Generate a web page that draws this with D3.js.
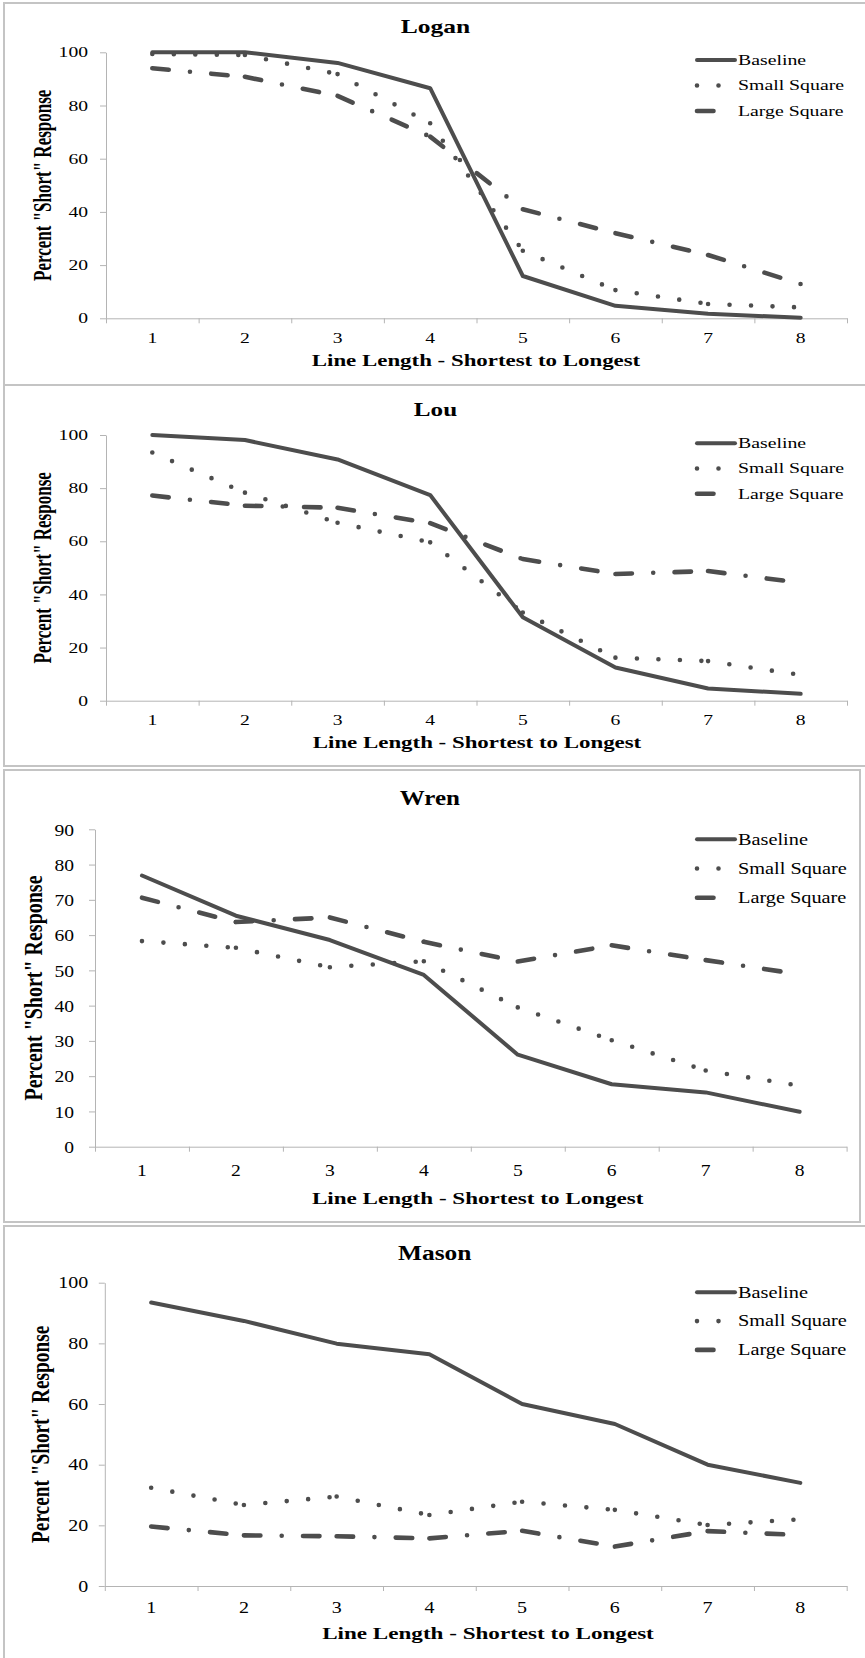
<!DOCTYPE html>
<html>
<meta charset="utf-8">
<title>Percent "Short" Response by Line Length</title>
<style>
  body {
    margin: 0;
    background: #fff;
  }

  svg text {
    font-family: "Liberation Serif", "Times New Roman", serif;
    fill: #000;
  }

  .axis path,
  .axis line {
    stroke: #b4b4b4;
    stroke-width: 1;
  }

  .frame {
    fill: none;
    stroke: #c4c4c4;
    stroke-width: 2;
  }

  .series {
    fill: none;
    stroke: #4d4d4d;
    stroke-width: 4;
    stroke-linecap: round;
    stroke-linejoin: round;
  }
  .series.broken {
    stroke-width: 4.6;
  }
</style>
<body>
<div id="chart"></div>
<script src="https://d3js.org/d3.v7.min.js"></script>
<script>

// line length categories (shortest to longest)
const categories = [1, 2, 3, 4, 5, 6, 7, 8];
const seriesNames = ['Baseline', 'Small Square', 'Large Square'];

const loganBaseline = [100, 100, 96, 86.5, 15.9, 4.7, 1.7, 0.2];
const loganSmall = [99.4, 99, 91.8, 73.3, 25.4, 10.6, 5.4, 4.1];
const loganLarge = [94, 90.8, 83.6, 68.3, 41, 32, 23.8, 12.9];

const louBaseline = [100, 98.1, 90.8, 77.4, 31.4, 12.5, 4.6, 2.6];
const louSmall = [93.4, 78.3, 67, 59.6, 33.2, 16.2, 14.9, 9.7];
const louLarge = [77.2, 73.4, 72.6, 66.8, 53.3, 47.7, 48.8, 44.4];

const wrenBaseline = [76.9, 65.5, 58.6, 48.7, 26.1, 17.7, 15.4, 9.9];
const wrenSmall = [58.3, 56.4, 50.9, 52.6, 39.5, 30.2, 21.6, 17.3];
const wrenLarge = [70.6, 63.7, 65, 58.1, 52.5, 57.1, 52.9, 48.9];

const masonBaseline = [93.5, 87.4, 79.9, 76.4, 60, 53.4, 40, 34];
const masonSmall = [32.4, 26.7, 29.5, 23.4, 27.8, 25.1, 20.1, 22];
const masonLarge = [19.6, 16.7, 16.4, 15.7, 18.2, 13, 18.1, 16.8];

const panelTitles = ['Logan', 'Lou', 'Wren', 'Mason'];
const panelMax = [100, 100, 90, 100];
const panelStep = [20, 20, 10, 20];
const panelValues = [
  [loganBaseline, loganSmall, loganLarge],
  [louBaseline, louSmall, louLarge],
  [wrenBaseline, wrenSmall, wrenLarge],
  [masonBaseline, masonSmall, masonLarge]
];

// dash patterns (excel restarts the pattern on every segment)
const dashes = [null, '0,21.5', '16.5,21.3,0,21.3'];

// where each panel sits; [font size, horizontal stretch] for texts
const layouts = [
  {top: 3, bottom: 385, right: 870, x0: 106, x1: 847, yTop: 52.3, yBot: 318.3,
   titleY: 27, tickGap: 20, yLabGap: 18, xTitleY: 361, xTitleX: 476, yTitleX: 43,
   legY: 60, legStep: 25.5,
   title: [18, 1.42], tick: [14, 1.4], xTitle: [16, 1.43], yTitle: [17, 1.5], legend: [15, 1.32]},
  {top: 385, bottom: 766, right: 870, x0: 106, x1: 847, yTop: 435, yBot: 700.7,
   titleY: 410, tickGap: 19.5, yLabGap: 18, xTitleY: 742.7, xTitleX: 477, yTitleX: 43,
   legY: 443.3, legStep: 25.2,
   title: [18, 1.4], tick: [14, 1.4], xTitle: [16, 1.43], yTitle: [17, 1.5], legend: [15, 1.32]},
  {top: 770, bottom: 1222, right: 860, x0: 95, x1: 846.6, yTop: 829.3, yBot: 1146.7,
   titleY: 798, tickGap: 23.3, yLabGap: 21, xTitleY: 1198, xTitleX: 477.7, yTitleX: 34,
   legY: 839.3, legStep: 29.2,
   title: [20, 1.25], tick: [17.5, 1.12], xTitle: [17.5, 1.32], yTitle: [20, 1.25], legend: [16, 1.27]},
  {top: 1226, bottom: 1670, right: 870, x0: 104.8, x1: 846.7, yTop: 1282.7, yBot: 1586,
   titleY: 1253, tickGap: 22, yLabGap: 16.5, xTitleY: 1633, xTitleX: 488, yTitleX: 41,
   legY: 1292.3, legStep: 28.8,
   title: [20, 1.27], tick: [16, 1.25], xTitle: [17.5, 1.32], yTitle: [19.3, 1.3], legend: [16, 1.27]}
];

const svg = d3.select('#chart').append('svg')
  .attr('width', 865)
  .attr('height', 1658);

function stretchText(g, x, y, spec, anchor, bold, str) {
  return g.append('text')
    .attr('transform', `translate(${x},${y}) scale(${spec[1]},1)`)
    .attr('text-anchor', anchor)
    .attr('dy', '0.33em')
    .style('font-size', spec[0] + 'px')
    .style('font-weight', bold ? 'bold' : 'normal')
    .text(str);
}

panelTitles.forEach((title, p) => {
  const L = layouts[p];
  const g = svg.append('g');

  g.append('rect')
    .attr('class', 'frame')
    .attr('x', 4)
    .attr('y', L.top)
    .attr('width', L.right - 4)
    .attr('height', L.bottom - L.top);

  const x = d3.scaleBand().domain(categories).range([L.x0, L.x1]);
  const xEdge = d3.scaleLinear().domain([0, categories.length]).range([L.x0, L.x1]);
  const y = d3.scaleLinear().domain([0, panelMax[p]]).range([L.yBot, L.yTop]);

  // y axis
  const yAxis = g.append('g')
    .attr('class', 'axis')
    .attr('transform', `translate(${L.x0},0)`)
    .call(d3.axisLeft(y)
      .tickValues(d3.range(0, panelMax[p] + 1, panelStep[p]))
      .tickSize(6)
      .tickSizeOuter(0)
      .tickPadding(L.yLabGap - 6));
  yAxis.attr('font-size', null).attr('font-family', null);
  yAxis.selectAll('.tick text')
    .attr('x', -L.yLabGap / L.tick[1])
    .attr('dy', '0.33em')
    .attr('transform', `scale(${L.tick[1]},1)`)
    .style('font-size', L.tick[0] + 'px');

  // x axis: tick marks between categories
  g.append('g')
    .attr('class', 'axis')
    .attr('transform', `translate(0,${L.yBot})`)
    .call(d3.axisBottom(xEdge)
      .tickValues(d3.range(categories.length + 1))
      .tickSize(5)
      .tickSizeOuter(0)
      .tickFormat(''));

  // x axis labels at category centres
  const xLab = g.append('g')
    .attr('class', 'axis')
    .attr('transform', `translate(0,${L.yBot})`)
    .call(d3.axisBottom(x).tickSize(0));
  xLab.select('.domain').remove();
  xLab.attr('font-size', null).attr('font-family', null);
  xLab.selectAll('.tick text')
    .attr('y', L.tickGap)
    .attr('dy', '0.33em')
    .attr('transform', `scale(${L.tick[1]},1)`)
    .style('font-size', L.tick[0] + 'px');

  // titles
  stretchText(g, (L.x0 + L.x1) / 2 - 41, L.titleY, L.title, 'middle', true, title);
  stretchText(g, L.xTitleX, L.xTitleY, L.xTitle, 'middle', true, 'Line Length - Shortest to Longest');
  g.append('text')
    .attr('transform', `translate(${L.yTitleX},${(L.yTop + L.yBot) / 2}) scale(${L.yTitle[1]},1) rotate(-90)`)
    .attr('text-anchor', 'middle')
    .attr('dy', '0.33em')
    .style('font-size', L.yTitle[0] + 'px')
    .style('font-weight', 'bold')
    .text('Percent "Short" Response');

  // series
  const line = d3.line().x(d => d[0]).y(d => d[1]);
  panelValues[p].forEach((vals, s) => {
    const pts = vals.map((v, i) => [x(categories[i]) + x.bandwidth() / 2, y(v)]);
    if (!dashes[s]) {
      g.append('path')
        .attr('class', 'series')
        .attr('d', line(pts));
    } else {
      g.selectAll(null)
        .data(d3.pairs(pts))
        .enter().append('path')
        .attr('class', 'series broken')
        .attr('stroke-dasharray', dashes[s])
        .attr('d', d => line(d));
    }
  });

  // legend
  seriesNames.forEach((name, s) => {
    const ly = L.legY + s * L.legStep;
    g.append('path')
      .attr('class', dashes[s] ? 'series broken' : 'series')
      .attr('stroke-dasharray', dashes[s])
      .attr('d', line([[697, ly], [dashes[s] ? 732 : 735, ly]]));
    stretchText(g, 738, ly, L.legend, 'start', false, name);
  });
});

</script>
</body>
</html>
